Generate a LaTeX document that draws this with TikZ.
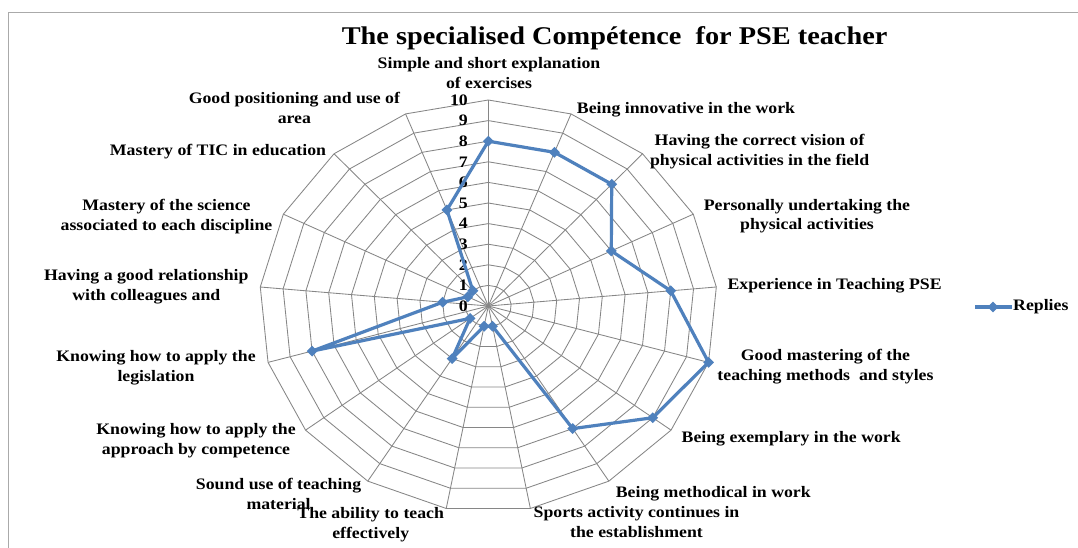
\documentclass[tikz,border=0pt]{standalone}
\usepackage{fontspec}
\setmainfont{Liberation Serif}[FakeStretch=1.11]
\usetikzlibrary{shapes.geometric}
\definecolor{gridc}{RGB}{134,134,134}
\definecolor{serc}{RGB}{79,129,189}
\definecolor{framec}{RGB}{170,170,170}
\begin{document}
\begin{tikzpicture}[x=1pt,y=-1pt,
  grid/.style={draw=gridc,line width=0.85pt},
  series/.style={draw=serc,line width=3.2pt,line join=round},
  mk/.style={diamond,fill=serc,inner sep=0pt,minimum width=11pt,minimum height=11pt},
  lbl/.style={font=\bfseries\fontsize{16}{19.8}\selectfont,align=center,inner sep=0pt,anchor=base},
  num/.style={font=\bfseries\fontsize{16}{19.8}\selectfont,inner sep=0pt,anchor=east},
  ttl/.style={font=\bfseries\fontsize{25.5}{30}\selectfont,inner sep=0pt,anchor=base}]
\useasboundingbox (0,0) rectangle (1078,548);
\fill[white] (0,0) rectangle (1078,548);
\draw[framec,line width=1.2pt] (1078,12.4) -- (8.3,12.4) -- (8.3,548);
\def\cx{488.3}\def\cy{306}\def\rx{22.9}\def\ry{20.6}
\coordinate (O) at (\cx,\cy);
% rings
\foreach \r in {1,...,10}{
  \draw[grid] ({\cx},{\cy-\r*\ry})
    \foreach \k in {1,...,16}{ -- ({\cx+\r*\rx*sin(\k*360/17)},{\cy-\r*\ry*cos(\k*360/17)}) } -- cycle;
}
% spokes
\foreach \k in {0,...,16}{
  \coordinate (t\k) at ({\cx+10*\rx*sin(\k*360/17)},{\cy-10*\ry*cos(\k*360/17)});
  \draw[grid] (O) -- (t\k);
}
% scale numbers
\foreach \r in {0,...,10}{
  \node[num] (n\r) at (468,{\cy-\r*\ry}) {\r};
}
% data
\foreach \v [count=\i from 0] in {8,8,8,6,8,10,9,7,1,1,3,1,8,2,1,1,5}{
  \coordinate (p\i) at ({\cx+\v*\rx*sin(\i*360/17)},{\cy-\v*\ry*cos(\i*360/17)});
}
\draw[series] (p0) -- (p1) -- (p2) -- (p3) -- (p4) -- (p5) -- (p6) -- (p7) -- (p8)
  -- (p9) -- (p10) -- (p11) -- (p12) -- (p13) -- (p14) -- (p15) -- (p16) -- cycle;
\foreach \i in {0,...,16}{ \node[mk] (m\i) at (p\i) {}; }
% title
\node[ttl] (title) at (614.6,44.1) {The specialised Compétence\ \ for PSE teacher};
% axis labels (base = baseline of last line)
\node[lbl] (l0) at (489,88.7) {Simple and short explanation\\of exercises};
\node[lbl] (l1) at (686,113.1) {Being innovative in the work};
\node[lbl] (l2) at (759.6,165.3) {Having the correct vision of\\physical activities in the field};
\node[lbl] (l3) at (807,229.8) {Personally undertaking the\\physical activities};
\node[lbl] (l4) at (834.6,289.7) {Experience in Teaching PSE};
\node[lbl] (l5) at (825.5,380.7) {Good mastering of the\\teaching methods\ \ and styles};
\node[lbl] (l6) at (791.2,442.4) {Being exemplary in the work};
\node[lbl] (l7) at (713.3,497.4) {Being methodical in work};
\node[lbl] (l8) at (636.5,537.2) {Sports activity continues in\\the establishment};
\node[lbl] (l9) at (370.7,538.1) {The ability to teach\\effectively};
\node[lbl] (l10) at (278.6,509.2) {Sound use of teaching\\material};
\node[lbl] (l11) at (196,454.4) {Knowing how to apply the\\approach by competence};
\node[lbl] (l12) at (156,381.1) {Knowing how to apply the\\legislation};
\node[lbl] (l13) at (146.3,300.2) {Having a good relationship\\with colleagues and};
\node[lbl] (l14) at (166.5,230.6) {Mastery of the science\\associated to each discipline};
\node[lbl] (l15) at (218,155.5) {Mastery of TIC in education};
\node[lbl] (l16) at (294.4,123.8) {Good positioning and use of\\area};
% legend
\coordinate (lg1) at (975,307);
\coordinate (lg2) at (1012,307);
\draw[series] (lg1) -- (lg2);
\node[mk] (lgm) at (993,307) {};
\node[lbl,anchor=west] (lgt) at (1013,307) {Replies};
\end{tikzpicture}
\end{document}
